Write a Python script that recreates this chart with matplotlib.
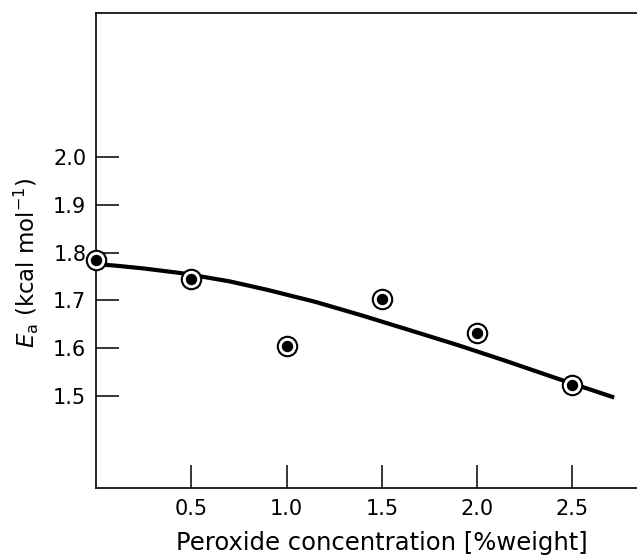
import matplotlib.pyplot as plt

# measured points (peroxide % weight vs activation energy)
conc = [0.0, 0.5, 1.0, 1.5, 2.0, 2.5]
ea = [1.785, 1.745, 1.604, 1.702, 1.631, 1.522]

# hand-drawn trend curve
curve_x = [0.0, 0.1, 0.25, 0.45, 0.7, 0.9, 1.15, 1.39, 1.65, 1.9, 2.15, 2.42, 2.72]
curve_y = [1.776, 1.773, 1.767, 1.757, 1.740, 1.722, 1.697, 1.669, 1.637, 1.606, 1.573, 1.536, 1.496]

xticks = [0.5, 1.0, 1.5, 2.0, 2.5]
yticks = [1.5, 1.6, 1.7, 1.8, 1.9, 2.0]

fig = plt.figure(figsize=(6.37, 5.55), dpi=100)
ax = fig.add_axes([96 / 637, 67 / 555, 562 / 637, 475.3 / 555])

ax.plot(curve_x, curve_y, color='black', lw=3.0, solid_capstyle='butt', zorder=2)
ax.plot(conc, ea, ls='none', marker='o', ms=14, mfc='white', mec='black',
        mew=1.5, zorder=3, clip_on=False)
ax.plot(conc, ea, ls='none', marker='o', ms=7.2, mfc='black', mec='black',
        zorder=4, clip_on=False)

ax.set_xlim(0, 2.95)
ax.set_ylim(1.306, 2.304)
ax.set_xticks(xticks)
ax.set_xticklabels(['0.5', '1.0', '1.5', '2.0', '2.5'])
ax.set_yticks(yticks)
ax.set_yticklabels(['1.5', '1.6', '1.7', '1.8', '1.9', '2.0'])

ax.tick_params(direction='in', length=16.5, width=1.1, labelsize=15, pad=7)
ax.tick_params(axis='x', pad=8)
for s in ax.spines.values():
    s.set_linewidth(1.2)

fig.text(26 / 637, 1 - 263 / 555, r'$E_{\mathrm{a}}$ (kcal mol$^{-1}$)',
         rotation=90, ha='center', va='center', fontsize=16.5)
fig.text(382 / 637, 5 / 555, 'Peroxide concentration [%weight]',
         ha='center', va='baseline', fontsize=17.5)

fig.savefig('out.png', dpi=100)
